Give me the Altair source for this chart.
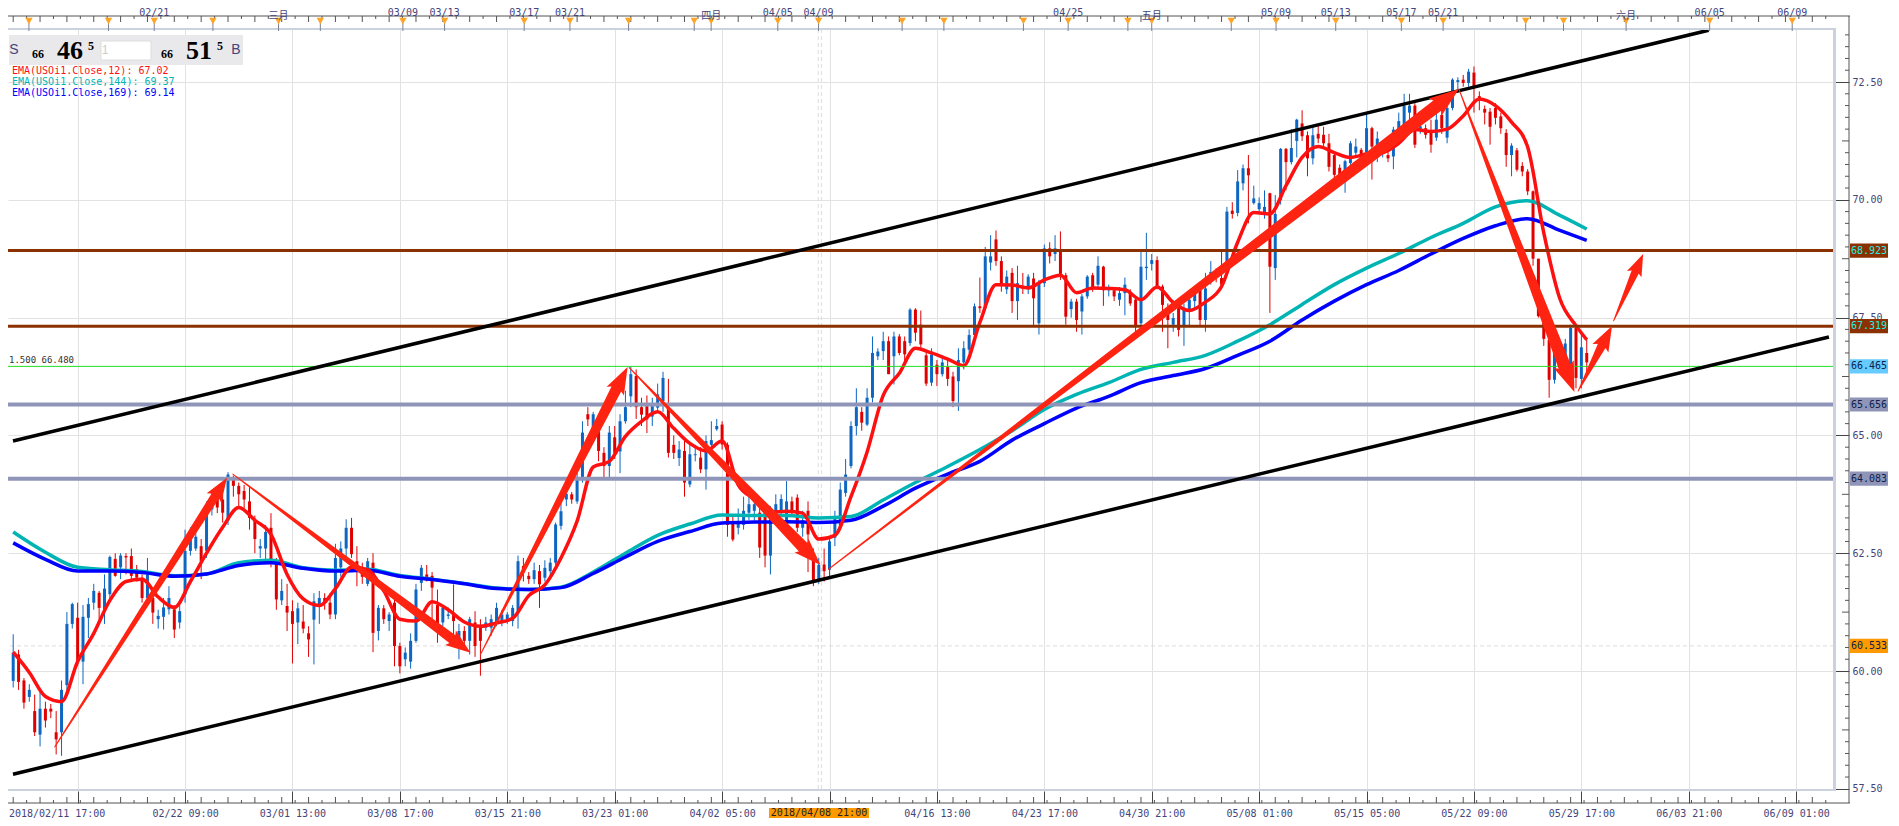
import json
import math
import pandas as pd
import altair as alt

## Candles, one per slot, slot 14 sits on the first grid line (20 slots between grid lines)
first_slot = 2
bar_open = [
    59.79,60.35,59.8,59.45,59.15,58.65,59.2,59.2,58.7,58.7,
    59.7,61.0,61.13,60.2,61.13,61.45,61.66,61.3,61.63,62.38,
    62.2,62.44,62.44,62.16,61.98,61.55,61.55,61.1,61.15,61.31,
    61.31,61.03,61.62,62.55,62.6,62.65,62.55,63.43,63.7,63.64,
    63.2,64.07,63.93,63.82,63.6,63.2,62.6,62.6,63.04,62.33,
    61.5,61.38,61.27,61.03,61.05,60.8,61.09,61.4,61.55,61.45,
    61.2,
    62.2,62.6,63.04,62.33,62.19,61.85,62.3,60.85,61.33,61.06,
    61.45,60.53,60.25,60.2,60.64,61.87,62.05,62.02,61.4,61.03,
    61.17,61.2,60.64,60.85,60.64,61.03,60.92,60.92,60.92,61.03,
    61.06,61.1,61.06,61.27,62.23,62.02,61.95,62.12,61.98,62.12,
    62.3,63.08,63.64,63.75,63.6,64.1,65.45,65.1,65.09,64.63,
    64.35,64.96,64.66,65.3,65.83,66.26,65.6,65.62,65.4,65.59,65.73,
    65.59,64.8,64.52,64.67,63.96,64.58,64.53,64.28,64.8,65.13,
    65.23,64.8,63.15,63.04,63.1,63.36,63.4,63.36,63.4,62.45,
    63.3,63.4,63.1,63.6,63.68,63.04,63.4,62.35,61.95,62.26,
    62.15,62.83,63.1,63.78,64.35,65.2,65.5,65.23,65.8,66.68,
    66.79,67.0,66.68,67.1,67.0,66.96,67.67,67.35,66.7,66.12,
    66.5,66.3,66.45,66.25,66.15,66.55,66.82,67.13,67.74,67.7,68.67,
    69.16,68.7,68.1,68.45,67.85,68.16,68.12,68.33,67.38,68.23,
    68.97,68.85,68.93,68.4,67.68,67.84,67.63,67.95,68.4,68.2,
    68.58,68.08,68.08,67.88,68.02,68.05,67.88,67.38,68.55,68.64,
    68.72,68.16,67.6,67.35,67.7,67.3,67.66,67.85,68.12,67.45,
    68.3,68.45,68.34,68.65,69.77,69.72,70.35,70.67,69.93,69.8,
    69.68,70.14,68.55,70.0,71.08,70.8,71.25,71.62,71.37,70.88,71.4,
    71.38,71.2,70.95,70.68,70.5,70.78,71.0,71.06,71.0,71.52,
    70.92,71.0,70.95,70.92,71.49,71.56,71.85,72.0,71.49,71.52,
    71.45,71.32,71.8,71.32,71.95,72.5,72.55,72.48,72.7,72.2,
    71.93,71.87,71.95,71.77,71.42,70.95,71.05,70.72,70.6,70.18,
    68.75,67.53,67.03,66.18,66.78,66.65,66.25,67.28,66.2,66.75,
]
bar_high = [
    60.78,60.45,59.85,59.72,59.5,59.55,59.35,59.3,59.15,59.8,
    61.25,61.45,61.45,61.4,61.55,61.85,61.7,62.05,62.45,62.5,
    62.5,62.5,62.6,62.25,62.05,62.4,61.7,61.3,61.55,61.8,
    61.4,61.4,63.0,63.05,63.0,62.8,63.6,63.8,63.75,63.75,
    64.22,64.15,64.0,63.95,63.9,63.3,62.8,63.1,63.35,62.4,
    61.95,61.85,61.5,61.45,61.4,60.95,61.65,61.7,61.65,61.65,
    62.7,
    62.75,63.22,63.25,62.65,62.3,62.4,62.5,61.4,61.4,61.25,
    61.6,60.6,60.5,60.8,61.85,62.25,62.25,62.1,61.73,61.4,
    61.35,61.84,61.0,60.95,61.15,61.27,61.1,61.15,61.2,61.45,
    61.3,61.25,61.4,62.45,62.4,62.1,62.3,62.25,62.35,62.4,
    63.15,63.6,63.85,63.8,64.3,65.3,65.6,65.5,65.2,64.75,
    65.2,65.2,65.45,65.95,66.47,66.4,65.8,65.85,65.8,66.1,66.35,
    66.2,65.0,64.88,64.9,64.85,64.8,64.75,65.0,65.3,65.35,
    65.3,64.85,63.3,63.45,63.7,63.75,63.6,63.5,63.5,63.5,
    63.75,63.75,64.03,63.7,63.75,63.4,63.6,62.6,62.4,62.6,
    62.85,63.4,64.0,64.5,65.3,66.0,65.6,66.0,67.1,66.85,
    67.2,67.1,67.2,67.15,67.1,67.7,67.7,67.65,66.8,66.85,
    66.6,66.7,66.65,66.35,66.85,67.0,67.25,67.8,68.35,69.0,69.25,
    69.35,68.8,68.5,68.55,68.6,68.45,68.42,68.45,68.3,69.05,
    69.1,69.25,69.33,68.45,67.9,67.9,68.0,68.4,68.45,68.8,
    68.6,68.2,68.15,68.15,68.35,68.1,67.95,68.9,69.3,68.85,
    68.8,68.2,67.8,67.6,67.75,67.8,67.98,68.15,68.2,68.45,
    68.7,68.55,68.9,69.85,69.95,70.63,70.75,70.95,70.3,70.05,
    70.2,70.15,70.1,71.1,71.1,71.5,71.72,71.9,71.45,71.55,71.6,
    71.55,71.4,71.0,70.75,70.85,71.25,71.3,71.1,71.84,71.55,
    71.45,71.25,71.05,71.55,71.85,72.25,72.25,72.05,71.65,71.6,
    71.7,71.95,71.85,72.05,72.58,72.6,72.65,72.78,72.83,72.3,
    72.0,71.95,72.05,71.85,71.5,71.2,71.1,70.8,70.65,70.2,
    68.75,67.55,67.1,67.0,67.0,67.05,67.35,67.35,67.15,67.05,
]
bar_low = [
    59.65,59.6,59.2,59.35,58.62,58.4,58.8,59.0,58.23,58.2,
    59.6,60.9,60.1,59.72,60.7,61.3,61.1,61.0,61.55,62.0,
    61.95,62.05,61.95,61.9,61.45,61.5,61.0,60.9,60.88,61.2,
    60.7,60.9,61.45,62.45,62.55,61.95,62.4,63.3,63.35,63.15,
    63.1,63.7,63.5,63.4,63.0,62.5,62.4,62.35,62.2,61.3,
    61.4,60.85,60.16,60.57,60.8,60.3,60.14,61.0,61.3,61.1,
    61.1,
    62.0,62.4,62.4,61.8,61.85,61.8,60.4,60.65,61.0,60.85,
    60.1,59.95,60.1,60.05,60.6,61.7,61.9,61.0,60.6,60.95,
    61.1,60.55,60.25,60.5,60.35,60.3,59.9,60.85,60.75,60.95,
    60.95,61.0,60.95,60.9,61.9,61.85,61.85,61.34,61.9,62.0,
    62.25,63.0,63.5,63.55,63.55,64.0,65.2,64.9,64.45,64.1,
    64.1,64.5,64.2,65.25,65.6,65.35,65.2,65.05,65.2,65.5,65.5,
    64.53,64.5,64.35,63.7,63.9,64.45,64.2,63.85,64.7,65.1,
    64.7,62.85,62.75,62.9,63.0,63.2,63.2,62.4,62.2,62.05,
    63.2,63.3,63.0,63.3,62.95,62.85,62.1,61.8,61.85,61.9,
    62.0,62.65,63.0,63.7,64.3,65.0,65.1,65.2,65.7,66.6,
    66.6,66.3,66.08,66.7,66.55,66.9,67.0,66.8,66.05,66.05,
    66.05,66.25,66.05,65.6,65.52,66.4,66.75,67.1,67.6,67.65,68.5,
    68.6,68.05,68.0,67.6,67.45,68.0,68.0,67.3,67.14,68.15,
    68.65,68.7,68.3,67.35,67.5,67.2,67.14,67.9,68.05,68.15,
    67.75,67.95,67.85,67.75,67.55,67.75,67.15,67.2,68.3,68.5,
    68.1,67.2,66.85,67.2,67.1,66.9,67.3,67.7,67.3,67.2,
    68.2,68.25,68.1,68.6,69.6,69.65,70.2,69.5,69.9,69.7,
    69.6,67.6,68.3,69.9,70.2,70.75,70.9,71.25,70.5,70.75,71.2,
    71.1,70.6,70.45,70.3,70.15,70.7,70.9,70.75,70.9,70.43,
    70.8,70.9,70.8,70.65,71.4,71.5,71.6,71.1,71.4,71.3,
    71.0,71.25,71.4,71.2,71.9,72.35,72.4,72.4,71.85,71.9,
    71.6,71.17,71.6,71.4,70.7,70.5,70.6,70.5,70.1,68.6,
    67.5,66.9,65.8,66.1,66.6,66.4,66.2,66.0,66.0,66.36,
]
bar_close = [
    60.39,59.77,59.33,59.6,58.7,59.2,58.95,59.14,58.55,59.6,
    61.0,61.42,60.2,61.15,61.42,61.7,61.34,61.75,62.42,62.02,
    62.45,62.41,62.02,61.98,61.55,62.05,61.24,61.17,61.35,61.55,
    60.88,61.27,62.55,62.8,62.85,62.33,63.47,63.68,63.47,63.36,
    64.17,63.93,63.75,63.64,63.25,62.8,62.65,62.95,62.33,61.52,
    61.7,61.24,61.0,61.33,60.9,60.67,61.48,61.55,61.45,61.2,
    62.4,
    62.6,63.04,62.48,62.19,62.0,62.33,60.81,61.34,61.1,61.2,
    60.53,60.1,60.39,60.64,61.73,62.19,61.98,61.77,60.95,61.34,
    61.2,61.06,60.85,60.64,61.1,60.53,60.64,61.03,61.1,61.34,
    61.2,61.2,61.34,62.33,62.09,61.95,62.14,61.84,62.19,62.3,
    63.11,63.39,63.76,63.64,64.1,65.06,65.34,65.45,64.67,64.35,
    65.06,64.63,65.3,65.6,66.3,65.6,65.44,65.34,65.62,65.87,66.22,
    64.63,64.63,64.7,64.0,64.6,64.6,64.28,64.88,64.9,65.2,
    64.81,63.1,62.79,63.18,63.4,63.54,63.54,62.62,62.45,63.32,
    63.54,63.65,63.6,63.4,63.04,63.2,62.9,61.9,62.25,62.12,
    62.75,63.29,63.85,64.17,65.2,65.6,65.27,65.8,66.75,66.78,
    67.0,66.3,67.1,66.75,66.72,67.67,67.18,66.93,66.1,66.72,
    66.3,66.55,66.2,65.73,66.6,66.85,67.13,67.74,67.7,68.8,68.8,
    68.7,68.2,68.37,67.85,68.23,68.12,68.37,67.91,68.23,68.97,
    68.8,68.97,68.4,67.52,67.84,67.45,67.95,68.37,68.15,68.6,
    68.08,68.13,67.95,68.02,68.2,67.8,67.3,68.58,68.58,68.72,
    68.16,67.77,67.45,67.49,67.24,67.7,67.88,68.05,67.45,68.12,
    68.47,68.35,68.2,69.75,69.7,70.39,70.67,70.52,70.03,69.93,
    69.85,68.58,69.7,71.08,70.8,71.1,71.7,71.35,70.88,71.37,71.3,
    71.2,70.7,70.53,70.4,70.82,71.2,71.13,70.88,71.52,71.13,
    71.3,71.17,70.88,71.49,71.67,72.0,72.0,71.17,71.56,71.38,
    71.17,71.7,71.52,71.95,72.55,72.54,72.48,72.72,72.37,72.15,
    71.85,71.55,71.74,71.52,70.95,71.15,70.64,70.6,70.18,68.75,
    67.53,67.05,66.18,66.78,66.7,66.95,67.28,66.22,66.87,66.55,
]

## EMA lines, read every 3 slots (12) and every 6 slots (144, 169)
ema12_slots = list(range(2, 294, 3)) + [295]
ema12 = [
    60.40,59.97,59.46,59.35,60.2,60.8,61.5,61.9,61.95,61.57,
    61.35,61.9,62.5,63.05,63.47,63.2,62.9,62.05,61.53,61.39,
    61.75,62.2,62.15,61.7,61.1,61.06,61.47,61.3,61.04,60.95,
    61.02,61.12,61.6,61.83,62.4,63.18,64.33,64.45,64.98,65.3,65.5,
    65.15,64.83,64.67,64.88,63.95,63.65,63.37,63.39,63.35,62.8,
    62.88,63.7,64.65,65.85,66.32,66.85,66.75,66.62,66.48,67.4,
    68.2,68.19,68.13,68.3,68.4,68.03,68.13,68.12,68.09,67.88,
    68.15,67.82,67.65,67.83,68.16,69.1,69.73,69.7,70.3,70.9,
    71.13,71.0,70.9,70.97,71.0,71.2,71.49,71.45,71.5,71.78,
    72.14,72.0,71.65,71.12,69.3,67.9,67.33,67.03,
]
ema_slow_slots = list(range(2, 296, 6)) + [295]
ema144 = [
    62.95,62.52,62.2,62.15,62.11,62.02,62.06,62.3,62.35,62.19,
    62.14,62.16,62.03,61.95,61.86,61.76,61.73,61.78,62.1,62.5,62.88,
    63.12,63.31,63.3,63.3,63.25,63.28,63.63,64.0,64.34,64.7,
    65.1,65.55,65.87,66.12,66.4,66.55,66.7,67.0,67.35,67.78,
    68.2,68.55,68.86,69.2,69.5,69.85,69.98,69.67,69.38,
]
ema169 = [
    62.72,62.37,62.12,62.12,62.09,62.01,62.06,62.24,62.3,62.18,
    62.12,62.14,62.01,61.94,61.85,61.75,61.73,61.77,62.07,62.42,62.75,
    62.96,63.14,63.16,63.17,63.15,63.2,63.5,63.88,64.18,64.45,
    64.9,65.25,65.58,65.83,66.12,66.27,66.42,66.7,67.0,67.45,
    67.85,68.2,68.5,68.85,69.18,69.45,69.6,69.35,69.14,
]

## Price levels and their tags on the right
level_price = [68.923, 67.319, 66.465, 65.656, 64.083]
level_color = ["#8b3000", "#8b3000", "#22e022", "#8f95b8", "#8f95b8"]
level_width = [3, 3, 1, 4, 4]
tag_price = [68.923, 67.319, 66.465, 65.656, 64.083, 60.533]
tag_text = ["68.923", "67.319", "66.465", "65.656", "64.083", "60.533"]
tag_fill = ["#8b3000", "#8b3000", "#66ccff", "#8f95b8", "#8f95b8", "#ff9900"]
tag_ink = ["#22eeee", "#22eeee", "#10204a", "#10204a", "#10204a", "#10204a"]

## Channel lines
channel_slot = [[1.96, 317.7], [1.96, 340.1]]
channel_price = [[64.88, 73.6], [57.81, 67.09]]

## Hand drawn arrows
arrow_x0 = [9.74, 42.9, 89.0, 116.7, 153.8, 271.2, 293.4, 300.0]
arrow_y0 = [58.39, 64.18, 60.35, 66.44, 62.16, 72.35, 65.94, 67.43]
arrow_x1 = [41.8, 87.15, 116.4, 152.3, 271.2, 292.7, 299.7, 305.5]
arrow_y1 = [64.1, 60.39, 66.45, 62.25, 72.35, 65.92, 67.32, 68.85]
arrow_body = [9, 10, 11, 12, 13, 13, 9, 8]
arrow_head = [24, 25, 27, 27, 30, 30, 25, 22]

## Axes
major_slots = list(range(14, 335, 20))
bottom_labels = ["", "02/22 09:00", "03/01 13:00", "03/08 17:00", "03/15 21:00", "03/23 01:00",
                 "04/02 05:00", "", "04/16 13:00", "04/23 17:00", "04/30 21:00", "05/08 01:00",
                 "05/15 05:00", "05/22 09:00", "05/29 17:00", "06/03 21:00", "06/09 01:00"]
top_labels = ["02/21", "三月", "03/09", "03/13", "03/17", "03/21", "四月", "04/05", "04/09",
              "04/25", "五月", "05/09", "05/13", "05/17", "05/21", "六月", "06/05", "06/09"]
top_label_slots = [28.26, 51.41, 74.56, 82.33, 97.15, 105.67, 131.96, 144.37, 151.96,
                   198.44, 214, 237.15, 248.26, 260.48, 268.26, 302.33, 317.89, 333.26]
flag_slots = [4.93, 19.74, 28.26, 39.19, 51.41, 59.19, 74.56, 82.33, 97.15, 105.67, 116.59,
              128.81, 131.96, 144.37, 151.96, 167.52, 175.3, 190.11, 198.44, 209.56, 214,
              228.81, 237.15, 248.26, 260.48, 268.26, 283.63, 290.67, 302.33, 317.89, 333.26]
price_ticks = [57.5, 60, 62.5, 65, 67.5, 70, 72.5]

INK = "#44447a"
MONO = "DejaVu Sans Mono"
W, H = 1826, 761
X0, Y0 = 8, 29  # where the plot sits on the page
PX_SLOT, PX_PRICE = 5.4, 47.12  # plot pixels for one slot and one price point
HEAD_SHAPE = "M0,-1L-0.72,1L0,0.6L0.72,1Z"  # swept arrow head, points up

x_scale = alt.Scale(domain=[1.963, 340.11], nice=False, zero=False)
y_scale = alt.Scale(domain=[57.475, 73.625], nice=False, zero=False)

x_axis = alt.Axis(values=major_slots, orient="bottom", offset=1, tickSize=12, tickColor="#444444", domain=False,
                  grid=True, gridColor="#e2e2e2", labelExpr=json.dumps(dict(zip(map(str, major_slots), bottom_labels))) + "[datum.value]",
                  labelFont=MONO, labelFontSize=10, labelColor=INK, labelPadding=5, title=None, labelOverlap=False)
y_axis = alt.Axis(values=price_ticks, orient="right", tickSize=15, tickColor="#444444", domain=False, format=".2f",
                  grid=True, gridColor="#e2e2e2", labelFont=MONO, labelFontSize=10, labelColor=INK, labelPadding=3,
                  title=None, labelOverlap=False)

# every layer carries the same axis so they merge into one
x_plain = alt.X("slot:Q", scale=x_scale, axis=x_axis)
y_plain = alt.Y("price:Q", scale=y_scale, axis=y_axis)


def sx(px):
    return alt.value(px - X0)


def sy(py):
    return alt.value(py - Y0)


def label(text, px, py, **kw):
    return alt.Chart(pd.DataFrame({"t": [text]})).mark_text(**kw).encode(x=sx(px), y=sy(py), text="t:N")


def box(x0, x1, y0, y1, fill, **kw):
    return alt.Chart(pd.DataFrame({"a": [0]})).mark_rect(fill=fill, **kw).encode(
        x=sx(x0), x2=sx(x1), y=sy(y0), y2=sy(y1))


bars = pd.DataFrame({"slot": range(first_slot, first_slot + len(bar_open)), "open": bar_open,
                     "high": bar_high, "low": bar_low, "close": bar_close})
bars["dir"] = ["up" if c >= o else "down" for o, c in zip(bar_open, bar_close)]
dir_color = alt.Color("dir:N", scale=alt.Scale(domain=["up", "down"], range=["#0d66c2", "#e00000"]), legend=None)

layers = []

# crosshair and dashed price line sit under everything
layers.append(alt.Chart(pd.DataFrame({"price": [60.533]})).mark_rule(color="#dddddd", strokeDash=[4, 3]).encode(y=y_plain))
layers.append(alt.Chart(pd.DataFrame({"slot": [151.9, 152.5]})).mark_rule(color="#dddddd", strokeDash=[4, 3]).encode(x=x_plain))

# candles
layers.append(alt.Chart(bars).mark_rule(strokeWidth=1).encode(
    x=x_plain, y=alt.Y("low:Q", scale=y_scale, axis=y_axis), y2="high:Q", color=dir_color))
layers.append(alt.Chart(bars).mark_bar(size=3).encode(
    x=x_plain, y=alt.Y("open:Q", scale=y_scale, axis=y_axis), y2="close:Q", color=dir_color))

# moving averages
for slots, values, color, width in [(ema_slow_slots, ema144, "#00b4b4", 3.5),
                                    (ema_slow_slots, ema169, "#0000ff", 3.5),
                                    (ema12_slots, ema12, "#ff1010", 3.5)]:
    layers.append(alt.Chart(pd.DataFrame({"slot": slots, "price": values})).mark_line(
        color=color, strokeWidth=width, interpolate="monotone").encode(x=x_plain, y=y_plain))

# horizontal levels
for p, c, w in zip(level_price, level_color, level_width):
    layers.append(alt.Chart(pd.DataFrame({"price": [p]})).mark_rule(color=c, strokeWidth=w).encode(y=y_plain))

# channel
for slots, prices in zip(channel_slot, channel_price):
    layers.append(alt.Chart(pd.DataFrame({"slot": slots, "price": prices})).mark_line(
        color="black", strokeWidth=3.5, clip=True).encode(x=x_plain, y=y_plain))

# arrows: a trail that widens up to the head, a custom symbol for the head
rows, heads = [], []
for i in range(len(arrow_x0)):
    x0, y0, x1, y1 = arrow_x0[i], arrow_y0[i], arrow_x1[i], arrow_y1[i]
    dx, dy = (x1 - x0) * PX_SLOT, (y1 - y0) * PX_PRICE
    length = math.hypot(dx, dy)
    mid = 1 - 0.5 * arrow_head[i] / length
    base = 1 - 0.8 * arrow_head[i] / length
    rows += [
        {"arrow": i, "n": 0, "slot": x0, "price": y0, "w": 1},
        {"arrow": i, "n": 1, "slot": x0 + (x1 - x0) * base, "price": y0 + (y1 - y0) * base, "w": arrow_body[i]},
    ]
    heads.append({"slot": x0 + (x1 - x0) * mid, "price": y0 + (y1 - y0) * mid,
                  "a": math.degrees(math.atan2(dx, dy)) % 360, "s": arrow_head[i] ** 2})
layers.append(alt.Chart(pd.DataFrame(rows)).mark_trail(color="#ff2412").encode(
    x=x_plain, y=y_plain, order="n:Q", detail="arrow:N", size=alt.Size("w:Q", scale=None, legend=None)))
layers.append(alt.Chart(pd.DataFrame(heads)).mark_point(shape=HEAD_SHAPE, filled=True, color="#ff2412", opacity=1).encode(
    x=x_plain, y=y_plain, angle=alt.Angle("a:Q", scale=None), size=alt.Size("s:Q", scale=None, legend=None)))

# frame of the plot and the rulers
layers.append(box(8, 1836, 28, 30, "#cbd2de"))
layers.append(box(8, 1836, 789, 791, "#cbd2de"))
layers.append(box(1833, 1836, 28, 791, "#cbd2de"))
layers.append(box(8, 1850, 15.5, 16.5, "#555555"))
layers.append(box(8, 1850, 802.5, 803.5, "#555555"))
layers.append(box(1848.5, 1849.5, 16, 803, "#555555"))

ruler = pd.DataFrame({"slot": [2 + 2.5 * i for i in range(136)]})
ruler["even"] = [i % 2 == 0 for i in range(136)]
ruler = ruler[~ruler["slot"].isin(major_slots)]
for even, top_len, bottom_len in [(True, 6, 6), (False, 3, 3)]:
    part = ruler[ruler["even"] == even]
    layers.append(alt.Chart(part).mark_rule(color="#555555").encode(x=x_plain, y=sy(16), y2=sy(16 + top_len)))
    layers.append(alt.Chart(part).mark_rule(color="#555555").encode(x=x_plain, y=sy(803 - bottom_len), y2=sy(803)))

flags = pd.DataFrame({"slot": flag_slots})
layers.append(alt.Chart(flags).mark_rule(color="#7a8296").encode(x=x_plain, y=sy(22), y2=sy(31)))
layers.append(alt.Chart(flags).mark_point(shape="triangle-down", filled=True, color="#ffa424", opacity=1, size=55).encode(
    x=x_plain, y=sy(21)))

# right hand ruler, every quarter point
minor_price = [57.75 + 0.25 * i for i in range(64)]
minor_price = [p for p in minor_price if p % 2.5 != 0]
for prices, size in [([p for p in minor_price if p % 2.5 == 1.25], 7), ([p for p in minor_price if p % 2.5 != 1.25], 4)]:
    layers.append(alt.Chart(pd.DataFrame({"price": prices})).mark_rule(color="#555555").encode(
        x=sx(1849 - size), x2=sx(1849), y=y_plain))

# top labels
for text, s in zip(top_labels, top_label_slots):
    cjk = "月" in text
    layers.append(alt.Chart(pd.DataFrame({"slot": [s], "t": [text]})).mark_text(
        font="Noto Sans CJK SC" if cjk else MONO, fontSize=10, color=INK, baseline="middle").encode(
        x=x_plain, y=sy(15.5 if cjk else 12.5), text="t:N"))

# price tags
tags = pd.DataFrame({"lo": [p - 0.15 for p in tag_price], "hi": [p + 0.15 for p in tag_price], "price": tag_price,
                     "t": tag_text, "fill": tag_fill, "ink": tag_ink})
layers.append(alt.Chart(tags).mark_rect().encode(
    x=sx(1850), x2=sx(1888), y=alt.Y("lo:Q", scale=y_scale, axis=y_axis), y2="hi:Q",
    color=alt.Color("fill:N", scale=None, legend=None)))
layers.append(alt.Chart(tags).mark_text(font=MONO, fontSize=10, align="left").encode(
    x=sx(1851), y=y_plain, text="t:N", color=alt.Color("ink:N", scale=None, legend=None)))

# bottom texts that the axis does not place
layers.append(label("2018/02/11 17:00", 9, 814, font=MONO, fontSize=10, color=INK, align="left"))
layers.append(box(769, 869, 808, 818, "#ff9900"))
layers.append(label("2018/04/08 21:00", 819, 813, font=MONO, fontSize=10, color="#222222"))

# left of the chart
layers.append(label("1.500 66.480", 9, 360, font=MONO, fontSize=9, color="#333333", align="left"))

# quote panel
layers.append(box(9, 243, 35, 65, "#e9e9eb"))
layers.append(box(101, 151, 41, 60, "#ffffff", stroke="#dddddd"))
layers.append(label("S", 14, 50, font="Liberation Sans", fontSize=14, color=INK))
layers.append(label("1", 105, 50, font="Liberation Sans", fontSize=12, color="#cccccc"))
layers.append(label("B", 236, 50, font="Liberation Sans", fontSize=14, color=INK))
for text, px in [("66", 38), ("66", 167)]:
    layers.append(label(text, px, 54, font="Liberation Serif", fontWeight="bold", fontSize=12, color="black"))
for text, px in [("46", 70), ("51", 199)]:
    layers.append(label(text, px, 51, font="Liberation Serif", fontWeight="bold", fontSize=26, color="black"))
for px in [91, 220]:
    layers.append(label("5", px, 46, font="Liberation Serif", fontWeight="bold", fontSize=12, color="black"))

# indicator legend
for text, py, c in [("EMA(USOi1.Close,12): 67.02", 71, "#ff1010"),
                    ("EMA(USOi1.Close,144): 69.37", 82, "#00b4b4"),
                    ("EMA(USOi1.Close,169): 69.14", 93, "#0000ff")]:
    layers.append(label(text, 12, py, font=MONO, fontSize=10, color=c, align="left"))

chart = alt.layer(*layers).properties(
    width=W, height=H,
    padding={"left": 0, "top": 21, "right": 57, "bottom": 28},
    autosize=alt.AutoSizeParams(type="none"),
    background="white",
).configure_view(strokeWidth=0)

chart.save("out.html", embed_options={"renderer": "svg", "actions": False})
